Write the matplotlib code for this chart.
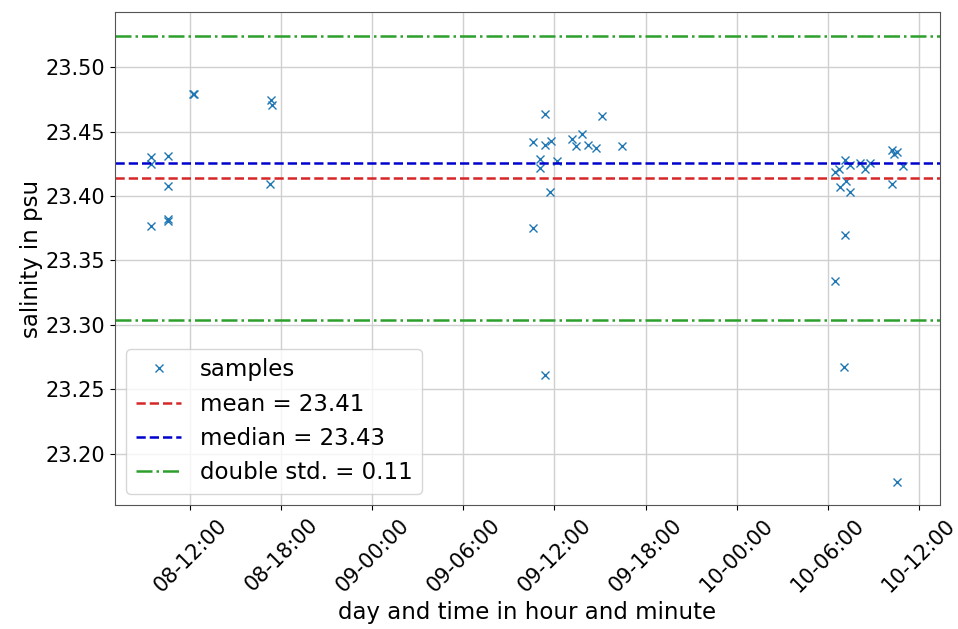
import datetime as dt
import matplotlib
matplotlib.use('Agg')
import matplotlib.pyplot as plt
import matplotlib.dates as mdates

# salinity samples: (day, hour, minute) and value in psu
sample_times = [
    (8, 9, 26), (8, 9, 26), (8, 10, 31), (8, 10, 33), (8, 9, 26),
    (8, 10, 31), (8, 10, 33), (8, 12, 13), (8, 12, 14),
    (8, 17, 20), (8, 17, 22), (8, 17, 14),
    (9, 10, 34), (9, 11, 23), (9, 15, 7), (9, 11, 23), (9, 11, 47),
    (9, 13, 10), (9, 13, 50), (9, 13, 26), (9, 14, 12), (9, 14, 45),
    (9, 16, 25), (9, 11, 1), (9, 11, 1), (9, 12, 9), (9, 11, 44),
    (9, 10, 37), (9, 11, 23),
    (10, 7, 10), (10, 6, 45), (10, 6, 28), (10, 7, 27), (10, 7, 14),
    (10, 6, 50), (10, 7, 27), (10, 8, 7), (10, 8, 26), (10, 8, 46),
    (10, 10, 16), (10, 10, 21), (10, 10, 34), (10, 10, 58), (10, 10, 16),
    (10, 7, 10), (10, 6, 29), (10, 7, 4), (10, 10, 32),
]
salinity = [
    23.430, 23.425, 23.431, 23.408, 23.377,
    23.381, 23.382, 23.479, 23.479,
    23.475, 23.471, 23.409,
    23.442, 23.464, 23.462, 23.440, 23.443,
    23.444, 23.448, 23.439, 23.440, 23.437,
    23.439, 23.429, 23.422, 23.427, 23.403,
    23.375, 23.261,
    23.428, 23.421, 23.419, 23.424, 23.412,
    23.407, 23.403, 23.426, 23.421, 23.426,
    23.436, 23.433, 23.434, 23.423, 23.409,
    23.370, 23.334, 23.267, 23.178,
]

mean_val = 23.414
median_val = 23.426
double_std = 0.11

times = [dt.datetime(2021, 6, d, h, m) for d, h, m in sample_times]

fig = plt.figure(figsize=(9.58, 6.29), dpi=100)
ax = fig.add_axes([0.120, 0.197, 0.861, 0.784])

ax.plot(times, salinity, 'x', color='tab:blue', markersize=6, markeredgewidth=1.0,
        label='samples')
ax.axhline(mean_val, color='tab:red', linestyle='--', linewidth=1.8,
           label=f'mean = {mean_val:.2f}')
ax.axhline(median_val, color='mediumblue', linestyle='--', linewidth=1.8,
           label=f'median = {median_val:.2f}')
ax.axhline(mean_val + double_std, color='tab:green', linestyle='-.', linewidth=1.8,
           label=f'double std. = {double_std:.2f}')
ax.axhline(mean_val - double_std, color='tab:green', linestyle='-.', linewidth=1.8)

ax.set_xlim(dt.datetime(2021, 6, 8, 7, 3), dt.datetime(2021, 6, 10, 13, 23))
ax.set_ylim(23.160, 23.543)
ax.set_yticks([23.20, 23.25, 23.30, 23.35, 23.40, 23.45, 23.50])
ax.yaxis.set_major_formatter(plt.FormatStrFormatter('%.2f'))

ax.xaxis.set_major_locator(mdates.HourLocator(byhour=[0, 6, 12, 18]))
ax.xaxis.set_major_formatter(mdates.DateFormatter('%d-%H:%M'))
ax.tick_params(labelsize=15)
plt.setp(ax.get_xticklabels(), rotation=45)

ax.grid(True, color='#d0d0d0', linewidth=1.0)
for s in ax.spines.values():
    s.set_color('#555555')
ax.set_xlabel('day and time in hour and minute', fontsize=16.5, labelpad=4)
ax.set_ylabel('salinity in psu', fontsize=16.5, labelpad=2)
ax.legend(loc='lower left', fontsize=16.5)

fig.savefig('out.png', dpi=100)
plt.close(fig)
